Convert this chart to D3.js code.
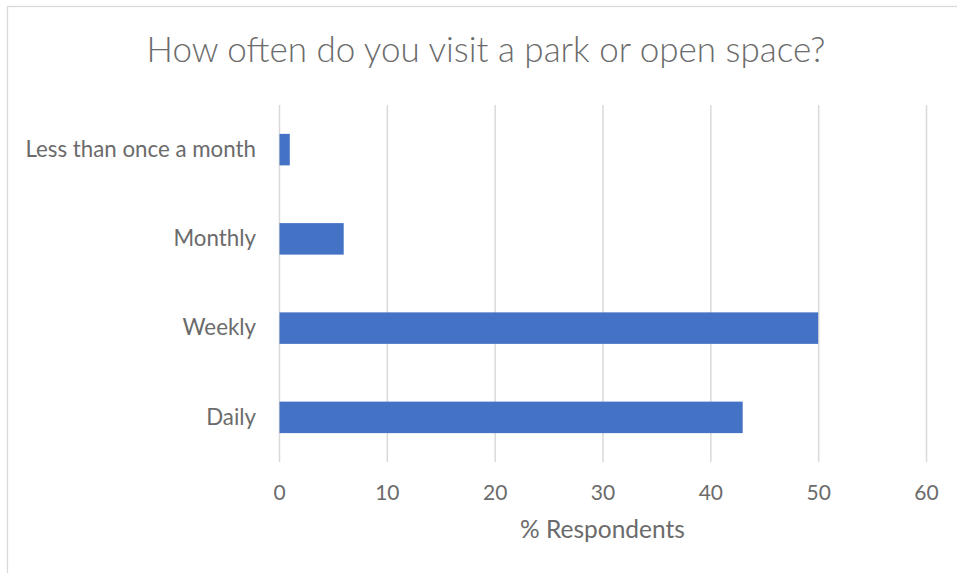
<!DOCTYPE html>
<html>
<head>
<meta charset="utf-8">
<script src="https://cdn.jsdelivr.net/npm/d3@7"></script>
<style>
  body { margin: 0; background: #fff; }
  svg text { font-family: Lato, "Open Sans", sans-serif; fill: #6b6b6b; }
</style>
</head>
<body>
<div id="chart"></div>
<script>
// 資料
const categories = ["Less than once a month", "Monthly", "Weekly", "Daily"];
const values = [1, 6, 50, 43];
const xTicks = [0, 10, 20, 30, 40, 50, 60];
const title = "How often do you visit a park or open space?";
const xTitle = "% Respondents";

const width = 957;
const height = 573;
const plot = { left: 279, right: 926, top: 105, bottom: 462 };

const svg = d3
  .select("#chart")
  .append("svg")
  .attr("width", width)
  .attr("height", height);

// 外框
svg
  .append("rect")
  .attr("x", 7.5)
  .attr("y", 6.5)
  .attr("width", 970)
  .attr("height", 600)
  .attr("fill", "none")
  .attr("stroke", "#d9d9d9")
  .attr("stroke-width", 1.3);

const x = d3
  .scaleLinear()
  .domain([0, 60])
  .range([plot.left, plot.right]);

const y = d3
  .scaleBand()
  .domain(categories)
  .range([plot.top, plot.bottom])
  .paddingInner(0.647)
  .paddingOuter(0.3235);

// 格線與 x 軸
const xAxis = svg
  .append("g")
  .attr("transform", `translate(0, ${plot.bottom})`)
  .call(
    d3
      .axisBottom(x)
      .tickValues(xTicks)
      .tickSize(-(plot.bottom - plot.top))
      .tickPadding(23)
  );
xAxis.select(".domain").remove();
xAxis.selectAll("line").attr("stroke", "#d9d9d9").attr("stroke-width", 1.5);
xAxis.selectAll("text").style("font-size", "21px");

// y 軸
const yAxis = svg
  .append("g")
  .attr("transform", `translate(${plot.left}, 0)`)
  .call(d3.axisLeft(y).tickSize(0).tickPadding(23));
yAxis.select(".domain").remove();
yAxis.selectAll("text").style("font-size", "22.3px");

// 長條
svg
  .selectAll(".bar")
  .data(categories)
  .enter()
  .append("rect")
  .attr("class", "bar")
  .attr("x", x(0) + 0.5)
  .attr("y", (d) => y(d))
  .attr("width", (d, i) => x(values[i]) - x(0) - 0.5)
  .attr("height", y.bandwidth())
  .attr("fill", "#4472c4");

// 標題
svg
  .append("text")
  .attr("x", 486)
  .attr("y", 62)
  .attr("text-anchor", "middle")
  .style("font-size", "35px")
  .style("font-weight", 300)
  .text(title);

svg
  .append("text")
  .attr("x", (plot.left + plot.right) / 2)
  .attr("y", 538)
  .attr("text-anchor", "middle")
  .style("font-size", "24.5px")
  .text(xTitle);
</script>
</body>
</html>
